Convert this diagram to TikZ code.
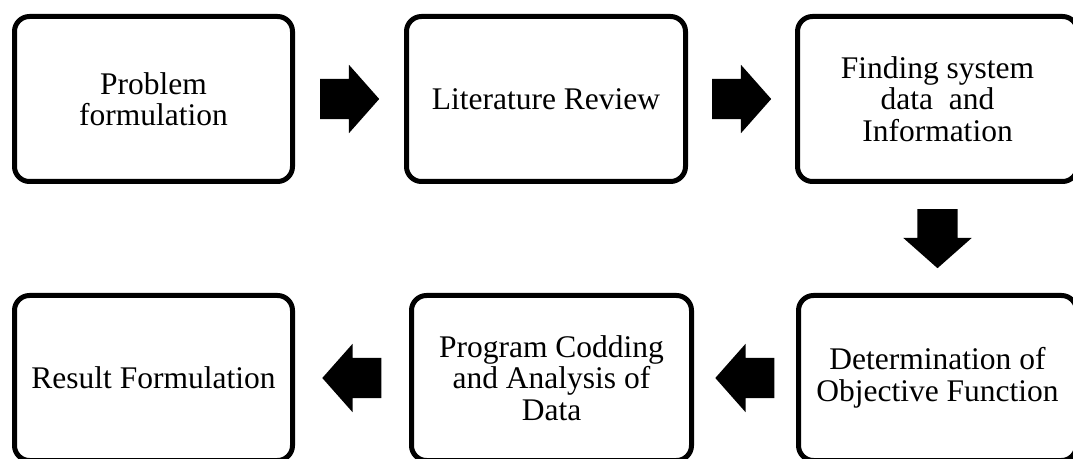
\documentclass[tikz,border=0pt]{standalone}
\usepackage{fontspec}
\setmainfont{Liberation Serif}
\usetikzlibrary{shapes.arrows,calc}
\begin{document}
\begin{tikzpicture}[x=1pt,y=1pt,
  stage/.style={draw, line width=5pt, rounded corners=15pt, minimum height=165pt,
    align=center, inner sep=0pt, font=\fontsize{31.5}{31.5}\selectfont},
  flowarrow/.style={single arrow, fill=black, draw=none, inner sep=0pt, inner ysep=20pt,
    single arrow head extend=14pt, single arrow tip angle=97, minimum height=59pt,
    anchor=tail}]
\useasboundingbox (0,0) rectangle (1073,458);
\clip (0,0) rectangle (1073,458);

% process stages, top row left to right, bottom row right to left
\node[stage, minimum width=278pt] (s1) at (153.5,359) {Problem\\formulation};
\node[stage, minimum width=279pt] (s2) at (546,359) {Literature Review};
\node[stage, minimum width=280pt] (s3) at (937.5,359) {Finding system\\data\ \ and\\Information};
\node[stage, minimum width=278pt] (s4) at (937.5,80) {Determination of\\Objective Function};
\node[stage, minimum width=280pt] (s5) at (551.5,80) {Program Codding\\and Analysis of\\Data};
\node[stage, minimum width=278pt] (s6) at (153.5,80) {Result Formulation};

% block arrows between consecutive stages, each centred in its gap
\node[flowarrow] (a12) at ($(s1.east)!0.5!(s2.west)+(-29.5,0)$) {};
\node[flowarrow] (a23) at ($(s2.east)!0.5!(s3.west)+(-29.5,0)$) {};
\node[flowarrow, rotate=-90] (a34) at ($(s3.south)!0.5!(s4.north)+(0,29.5)$) {};
\node[flowarrow, rotate=180] (a45) at ($(s4.west)!0.5!(s5.east)+(29.5,0)$) {};
\node[flowarrow, rotate=180] (a56) at ($(s5.west)!0.5!(s6.east)+(29.5,0)$) {};
\end{tikzpicture}
\end{document}
